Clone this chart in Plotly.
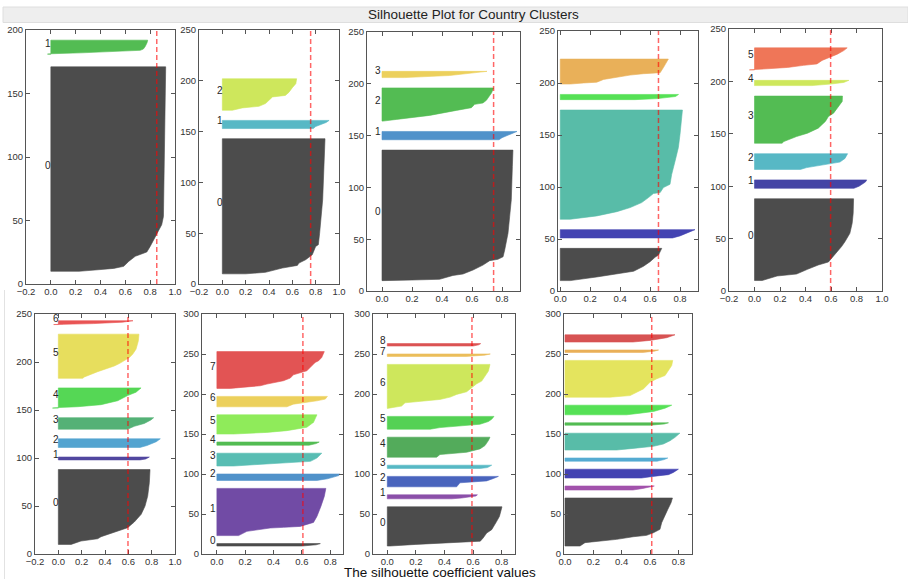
import plotly.graph_objects as go

# ---------------- data ----------------
# k = 2
K2_SIZES = [161, 11]
K2_RANKS = [[0, 1.2, 2.3, 3.9, 7.8, 11.8, 15.2, 19.6, 27.5, 36.7, 43.2, 82.5, 161],
            [0, 0.3, 1, 2, 3, 4, 6, 9, 11]]
K2_VALUES = [[0.227, 0.38, 0.507, 0.587, 0.627, 0.68, 0.773, 0.80, 0.84, 0.893, 0.907, 0.912, 0.925],
             [-0.027, 0.0, 0.24, 0.48, 0.72, 0.745, 0.76, 0.775, 0.78]]
K2_AVG = 0.853

# k = 3
K3_SIZES = [133, 8, 31]
K3_RANKS = [[0, 1.5, 5.7, 8.3, 10.6, 13.9, 18.8, 27, 28.7, 40, 56.5, 72.9, 105.7, 133],
            [0, 2, 4, 6, 8],
            [0, 2.3, 3.9, 6.6, 11.4, 13.1, 14.6, 17.6, 22.2, 26.2, 31]]
K3_VALUES = [[0.2, 0.37, 0.514, 0.643, 0.657, 0.714, 0.771, 0.8, 0.823, 0.834, 0.849, 0.86, 0.871, 0.88],
             [0.78, 0.8, 0.85, 0.89, 0.915],
             [0.086, 0.17, 0.314, 0.37, 0.414, 0.43, 0.54, 0.57, 0.6, 0.63, 0.637]]
K3_AVG = 0.757

# k = 4
K4_SIZES = [126, 8, 32, 6]
K4_RANKS = [[0, 0.6, 1.3, 5, 6.4, 10.3, 15, 19.3, 20.6, 23, 29.6, 45.7, 61.8, 78, 110, 126],
            [0, 2, 4, 6, 8],
            [0, 1.6, 5.5, 10.3, 12.9, 16.1, 17.4, 20, 23.2, 27.1, 31.9],
            [0, 2, 4, 6]]
K4_VALUES = [[0.01, 0.2, 0.384, 0.473, 0.54, 0.607, 0.673, 0.718, 0.773, 0.807, 0.818, 0.84, 0.851, 0.862, 0.869, 0.873],
             [0.78, 0.8, 0.83, 0.87, 0.9],
             [0.007, 0.096, 0.318, 0.496, 0.596, 0.618, 0.673, 0.696, 0.713, 0.73, 0.744],
             [0.15, 0.45, 0.6, 0.7]]
K4_AVG = 0.744

# k = 5
K5_SIZES = [31, 8, 105, 5, 24]
K5_RANKS = [[0, 3.5, 7.4, 9, 13.8, 18.2, 22.4, 24.6, 31],
            [0, 2, 4, 6, 8],
            [0, 3.2, 7.3, 11.2, 16, 20.8, 24.7, 25.6, 30.4, 33.6, 43, 56, 69, 81.7, 105],
            [0, 1, 2, 3, 5],
            [0, 1, 1.7, 4.3, 6.4, 8.4, 9.7, 10.6, 15.4, 20.2, 23.4]]
K5_VALUES = [[0.067, 0.244, 0.42, 0.49, 0.556, 0.6, 0.633, 0.656, 0.678],
             [0.75, 0.8, 0.83, 0.87, 0.9],
             [0.067, 0.244, 0.378, 0.467, 0.544, 0.589, 0.622, 0.667, 0.689, 0.733, 0.744, 0.767, 0.789, 0.8, 0.816],
             [0.5, 0.65, 0.72, 0.77, 0.79],
             [0.067, 0.156, 0.244, 0.289, 0.378, 0.467, 0.556, 0.667, 0.689, 0.711, 0.722]]
K5_AVG = 0.656

# k = 6
K6_SIZES = [78, 8, 15, 45, 5, 21]
K6_RANKS = [[0, 4.3, 6.2, 10.7, 14.8, 17.7, 21.2, 26, 32.4, 37, 45, 54.6, 64.2, 78],
            [0, 2, 4, 6, 8],
            [0, 1.6, 4.8, 6.4, 9.6, 13.7],
            [0, 1.6, 6.4, 9.6, 14.4, 20.8, 25.5, 28.7, 35.1, 39.9, 45],
            [0, 1.5, 3, 5],
            [0, 1, 2.2, 4.1, 5.4, 8.6, 11.8, 14.3, 17.5, 20]]
K6_VALUES = [[0.06, 0.177, 0.33, 0.416, 0.5, 0.58, 0.605, 0.644, 0.683, 0.709, 0.748, 0.766, 0.774, 0.777],
             [0.78, 0.82, 0.85, 0.87, 0.88],
             [0.36, 0.41, 0.59, 0.67, 0.71, 0.73],
             [0.216, 0.23, 0.33, 0.416, 0.5, 0.556, 0.58, 0.62, 0.66, 0.688, 0.69],
             [0.45, 0.6, 0.7, 0.74],
             [-0.04, 0.1, 0.26, 0.385, 0.49, 0.53, 0.6, 0.65, 0.70, 0.727]]
K6_AVG = 0.597

# k = 7
K7_SIZES = [78, 3, 9, 12, 21, 46, 4]
K7_RANKS = [[0, 3.5, 5.9, 8, 13.9, 17.4, 23.3, 31.3, 39.9, 50.3, 64.2, 78],
            [0, 1, 3],
            [0, 2, 4, 6, 9],
            [0, 3, 6, 9.7, 12],
            [0, 0.5, 1.4, 3.5, 7.6, 12.9, 16.4, 20.8],
            [0, 1.4, 6.9, 12.8, 15.3, 21.5, 25, 30.2, 38.9, 45.8],
            [0, 1, 2.5, 4]]
K7_VALUES = [[0.11, 0.194, 0.337, 0.366, 0.51, 0.594, 0.651, 0.71, 0.743, 0.766, 0.78, 0.786],
             [0.7, 0.75, 0.78],
             [0.7, 0.76, 0.8, 0.84, 0.874],
             [0.594, 0.651, 0.737, 0.794, 0.817],
             [-0.05, 0.0, 0.166, 0.366, 0.509, 0.594, 0.666, 0.709],
             [0.209, 0.223, 0.337, 0.48, 0.523, 0.609, 0.637, 0.666, 0.686, 0.691],
             [-0.04, 0.3, 0.55, 0.64]]
K7_AVG = 0.597

# k = 8
K8_SIZES = [3, 59, 8, 16, 4, 24, 13, 46]
K8_RANKS = [[0, 1.5, 3],
            [0, 5.3, 7.4, 9.5, 10.3, 11.5, 16.5, 24, 36.5, 49, 59],
            [0, 2, 4, 6, 8],
            [0, 1.6, 3.7, 5.8, 10, 16],
            [0, 2, 4],
            [0, 2, 4.2, 6.3, 8.4, 14.6, 24],
            [0, 3.3, 5.4, 7.5, 9.6, 13],
            [0, 3.3, 5.4, 9.6, 12.9, 17, 20, 22, 28.3, 32.5, 34.6, 38.7, 46]]
K8_VALUES = [[0.6, 0.7, 0.73],
             [0.153, 0.212, 0.282, 0.376, 0.47, 0.588, 0.682, 0.706, 0.734, 0.758, 0.769],
             [0.706, 0.78, 0.83, 0.86, 0.87],
             [0.12, 0.26, 0.47, 0.66, 0.706, 0.74],
             [0.65, 0.7, 0.722],
             [0.12, 0.353, 0.494, 0.565, 0.635, 0.682, 0.706],
             [0.494, 0.54, 0.635, 0.706, 0.765, 0.78],
             [0.094, 0.306, 0.353, 0.47, 0.518, 0.54, 0.6, 0.635, 0.67, 0.694, 0.718, 0.74, 0.758]]
K8_AVG = 0.607

# k = 9
K9_SIZES = [49, 5, 13, 4, 25, 16, 55, 3, 3]
K9_RANKS = [[0, 2, 4, 6, 10, 16.2, 20.4, 24.5, 30.8, 37, 43.3, 49],
            [0, 1, 2, 3.5, 5],
            [0, 5, 6.2, 7.4, 10.4, 13],
            [0, 1, 2.5, 4],
            [0, 3.3, 6.2, 10.4, 14.5, 20.8, 25],
            [0, 2, 4.2, 6.2, 9.6, 12.5, 16],
            [0, 1.7, 2.9, 7, 9, 11.2, 14.1, 17.5, 20.8, 25.8, 30.8, 34.1, 40.4, 46.6, 55],
            [0, 1.5, 3],
            [0, 1.5, 3]]
K9_VALUES = [[0.02, 0.2, 0.42, 0.65, 0.67, 0.695, 0.73, 0.746, 0.765, 0.784, 0.795, 0.802],
             [0.45, 0.52, 0.58, 0.62, 0.63],
             [0.485, 0.508, 0.648, 0.695, 0.742, 0.777],
             [0.65, 0.7, 0.72, 0.73],
             [0.345, 0.368, 0.555, 0.648, 0.683, 0.707, 0.718],
             [0.3, 0.368, 0.555, 0.648, 0.707, 0.73, 0.746],
             [0.0, 0.054, 0.1, 0.124, 0.229, 0.368, 0.44, 0.485, 0.555, 0.59, 0.625, 0.66, 0.683, 0.707, 0.718],
             [0.55, 0.68, 0.72],
             [0.6, 0.64, 0.653]]
K9_AVG = 0.592

# k = 10
K10_SIZES = [60, 5, 11, 4, 21, 3, 12, 46, 3, 9]
K10_RANKS = [[0, 4.2, 6.2, 8.3, 11.6, 13.3, 16.6, 20.8, 29.1, 37.4, 45.7, 54, 60],
             [0, 2, 3.5, 5],
             [0, 2, 4.2, 7, 11],
             [0, 2, 4],
             [0, 2, 4.6, 7.5, 11.6, 15.8, 21],
             [0, 1.5, 3],
             [0, 2, 4.1, 8.3, 12],
             [0, 2, 6.3, 10.4, 18.7, 23, 27.1, 33.3, 39.6, 46],
             [0, 1.5, 3],
             [0, 2, 5.4, 9]]
K10_VALUES = [[0.106, 0.141, 0.27, 0.365, 0.482, 0.576, 0.624, 0.67, 0.682, 0.706, 0.725, 0.748, 0.758],
              [0.48, 0.55, 0.6, 0.63],
              [0.54, 0.62, 0.73, 0.765, 0.8],
              [0.65, 0.7, 0.725],
              [0.365, 0.48, 0.624, 0.694, 0.741, 0.776, 0.81],
              [0.6, 0.7, 0.73],
              [0.435, 0.53, 0.624, 0.706, 0.753],
              [0.318, 0.459, 0.506, 0.553, 0.6, 0.647, 0.706, 0.729, 0.753, 0.76],
              [0.55, 0.63, 0.66],
              [0.48, 0.6, 0.718, 0.776]]
K10_AVG = 0.612

X_TICKS_WIDE = [-0.2, 0.0, 0.2, 0.4, 0.6, 0.8, 1.0]
X_TICKS_NARROW = [0.0, 0.2, 0.4, 0.6, 0.8]
TITLE = "Silhouette Plot for Country Clusters"
XLABEL = "The silhouette coefficient values"

# ---------------- styling / layout ----------------
W, H = 908, 579
FONT = "Liberation Sans, Arial, sans-serif"

# nipy_spectral colormap stops (matplotlib)
_R = [0.0, 0.4667, 0.5333, 0.0, 0.0, 0.0, 0.0, 0.0, 0.0, 0.0, 0.0, 0.0, 0.0, 0.7333, 0.9333, 1.0, 1.0, 1.0, 0.8667, 0.80, 0.80]
_G = [0.0, 0.0, 0.0, 0.0, 0.0, 0.4667, 0.6, 0.6667, 0.6667, 0.6, 0.7333, 0.8667, 1.0, 1.0, 0.9333, 0.8, 0.6, 0.0, 0.0, 0.0, 0.80]
_B = [0.0, 0.5333, 0.6, 0.6667, 0.8667, 0.8667, 0.8667, 0.6667, 0.5333, 0.0, 0.0, 0.0, 0.0, 0.0, 0.0, 0.0, 0.0, 0.0, 0.0, 0.0, 0.80]


def cluster_color(t):
    """nipy_spectral at t, composited at alpha 0.7 on white, toned like the reference image."""
    p = t / 0.05
    i = min(int(p), 19)
    f = p - i
    base = [a[i] + (a[i + 1] - a[i]) * f for a in (_R, _G, _B)]
    c = [0.7 * 255 * v + 0.3 * 255 for v in base]
    y = 0.299 * c[0] + 0.587 * c[1] + 0.114 * c[2]
    c = [y + 0.85 * (v - y) for v in c]
    bluish = max(0.0, (c[2] - max(c[0], c[1])) / 255.0)
    greenish = max(0.0, (c[1] - max(c[0], c[2])) / 255.0)
    s = (1 - 0.3 * bluish) * (1 - 0.13 * greenish)
    if c[0] > 180 and c[1] > 180:
        s *= 0.95
    c = [max(0, min(255, int(round(v * s)))) for v in c]
    return "rgb(%d,%d,%d)" % tuple(c)


# panel boxes in pixels: (left, right, top, bottom), x range, y max, x ticks
BOXES = [
    (26, 175, 30, 284, [-0.2, 1.0], 200, X_TICKS_WIDE),
    (199, 339, 30, 284, [-0.2, 1.0], 250, X_TICKS_WIDE),
    (367, 520, 32, 291, [-0.1, 0.92], 250, X_TICKS_NARROW),
    (558, 698, 31, 291, [-0.015, 0.92], 250, X_TICKS_NARROW),
    (729, 882, 29, 291, [-0.2, 1.0], 250, X_TICKS_WIDE),
    (35, 175, 314, 554, [-0.2, 1.0], 250, X_TICKS_WIDE),
    (202, 343, 314, 554, [-0.105, 0.89], 300, X_TICKS_NARROW),
    (373, 515, 314, 554, [-0.1, 0.893], 300, X_TICKS_NARROW),
    (564, 692, 314, 554, [-0.007, 0.896], 300, X_TICKS_NARROW),
]

PANELS = [
    (K2_SIZES, K2_RANKS, K2_VALUES, K2_AVG),
    (K3_SIZES, K3_RANKS, K3_VALUES, K3_AVG),
    (K4_SIZES, K4_RANKS, K4_VALUES, K4_AVG),
    (K5_SIZES, K5_RANKS, K5_VALUES, K5_AVG),
    (K6_SIZES, K6_RANKS, K6_VALUES, K6_AVG),
    (K7_SIZES, K7_RANKS, K7_VALUES, K7_AVG),
    (K8_SIZES, K8_RANKS, K8_VALUES, K8_AVG),
    (K9_SIZES, K9_RANKS, K9_VALUES, K9_AVG),
    (K10_SIZES, K10_RANKS, K10_VALUES, K10_AVG),
]

fig = go.Figure()
shapes = []
annotations = []
layout_axes = {}

# title band
shapes.append(dict(type="rect", xref="paper", yref="paper", x0=3 / W, x1=1, y0=1 - 22.5 / H, y1=1 - 7 / H,
                   fillcolor="#eeeeee", line=dict(color="#dedede", width=1), layer="below"))
shapes.append(dict(type="line", xref="paper", yref="paper", x0=4.5 / W, x1=4.5 / W, y0=0, y1=1 - 290 / H,
                   line=dict(color="#e2e2e2", width=1)))
annotations.append(dict(text=TITLE, xref="paper", yref="paper", x=474 / W, y=1 - 15 / H,
                        xanchor="center", yanchor="middle", showarrow=False,
                        font=dict(family=FONT, size=13.5, color="#222222")))
annotations.append(dict(text=XLABEL, xref="paper", yref="paper", x=440 / W, y=1 - 572 / H,
                        xanchor="center", yanchor="middle", showarrow=False,
                        font=dict(family=FONT, size=13.5, color="#111111")))

for p, ((sizes, ranks, vals, avg), (l, r, t, b, xr, ymax, xt)) in enumerate(zip(PANELS, BOXES)):
    n = p + 1
    xa = "x" if n == 1 else "x%d" % n
    ya = "y" if n == 1 else "y%d" % n
    k = len(sizes)
    y_lower = 10
    for i, (size, rk, vv) in enumerate(zip(sizes, ranks, vals)):
        y_upper = y_lower + size
        scale = size / rk[-1]
        xs = [0] + list(vv) + [0, 0]
        ys = [y_lower] + [y_lower + q * scale for q in rk] + [y_upper, y_lower]
        col = cluster_color(i / k)
        fig.add_trace(go.Scatter(x=xs, y=ys, xaxis=xa, yaxis=ya, mode="lines", fill="toself",
                                 fillcolor=col, line=dict(color=col, width=0.6),
                                 hoverinfo="skip", showlegend=False))
        annotations.append(dict(text=str(i), x=-0.05, y=y_lower + 0.5 * size, xref=xa, yref=ya,
                                xanchor="left", yanchor="middle", yshift=4, xshift=-2, showarrow=False,
                                font=dict(family=FONT, size=10, color="#262626")))
        y_lower = y_upper + 10
    shapes.append(dict(type="line", xref=xa, yref=ya + " domain", x0=avg, x1=avg, y0=0, y1=1,
                       line=dict(color="rgba(255,0,0,0.6)", width=1.5, dash="5px,3px")))
    axkey = "xaxis" if n == 1 else "xaxis%d" % n
    aykey = "yaxis" if n == 1 else "yaxis%d" % n
    common = dict(showline=True, linecolor="#555555", linewidth=1, mirror="allticks",
                  ticks="inside", ticklen=4, tickcolor="#555555", tickwidth=1,
                  showgrid=False, zeroline=False, automargin=False,
                  tickfont=dict(family=FONT, size=9.5, color="#333333"))
    layout_axes[axkey] = dict(domain=[l / W, r / W], range=xr, anchor=ya, ticklabelstandoff=-1,
                              tickvals=xt, ticktext=["%.1f" % v if v >= 0 else "\u2212%.1f" % -v for v in xt],
                              **common)
    layout_axes[aykey] = dict(domain=[1 - b / H, 1 - t / H], range=[0, ymax], anchor=xa,
                              tickvals=list(range(0, ymax + 1, 50)), **common)

fig.update_layout(template="none", width=W, height=H, margin=dict(l=0, r=0, t=0, b=0, pad=0),
                  paper_bgcolor="white", plot_bgcolor="white", font=dict(family=FONT),
                  shapes=shapes, annotations=annotations, showlegend=False, **layout_axes)

fig.write_html("out.html", config={"displayModeBar": False},
               post_script="document.body.style.margin='0px';document.body.style.overflow='hidden';")
